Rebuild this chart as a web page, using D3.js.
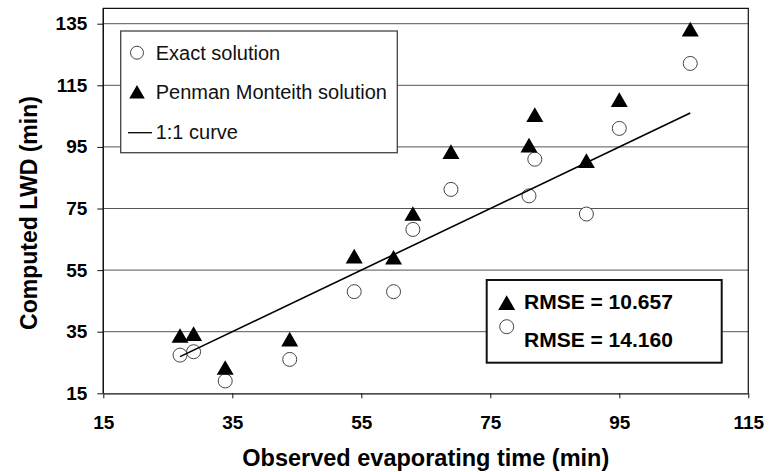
<!DOCTYPE html>
<html>
<head>
<meta charset="utf-8">
<script src="https://cdn.jsdelivr.net/npm/d3@7"></script>
<style>
  html, body { margin: 0; padding: 0; background: #fff; }
  svg { display: block; font-family: "Liberation Sans", Arial, sans-serif; }
</style>
</head>
<body>
<svg id="chart" width="780" height="472"></svg>
<script>
// ---- data ----
const observed = [26.9, 29.0, 33.9, 43.9, 53.9, 60.0, 63.0, 68.9, 81.0, 81.9, 89.9, 95.0, 106.0];
const exactSolution = [27.4, 28.5, 19.0, 26.0, 48.0, 48.0, 68.2, 81.2, 79.1, 91.0, 73.2, 101.0, 122.1];
const penmanMonteith = [33.3, 33.9, 22.9, 32.1, 59.1, 58.7, 72.9, 93.0, 95.1, 105.0, 90.1, 109.9, 132.8];
const oneToOne = [26.9, 106.0];
const xTicks = [15, 35, 55, 75, 95, 115];
const yTicks = [15, 35, 55, 75, 95, 115, 135];
const legendLabels = ["Exact solution", "Penman Monteith solution", "1:1 curve"];
const rmseLabels = ["RMSE = 10.657", "RMSE = 14.160"];
const xTitle = "Observed evaporating time (min)";
const yTitle = "Computed LWD (min)";

// ---- layout ----
const svg = d3.select("#chart");
const L = 103.3, R = 748.3, T = 8.3, B = 393.3;
const x = d3.scaleLinear().domain([15, 115]).range([L, R]);
const y = d3.scaleLinear().domain([15, 140]).range([B, T]);

// gridlines
svg.append("g").selectAll("line").data(yTicks.filter(d => d !== 15)).join("line")
  .attr("x1", L).attr("x2", R)
  .attr("y1", d => y(d)).attr("y2", d => y(d))
  .attr("stroke", "#555").attr("stroke-width", 1);

// frame (left, top, right)
svg.append("path")
  .attr("d", `M${L},${B} L${L},${T} L${R},${T} L${R},${B}`)
  .attr("fill", "none").attr("stroke", "#111").attr("stroke-width", 1.2);

// axes
const xAxis = svg.append("g").attr("transform", `translate(0,${B})`)
  .call(d3.axisBottom(x).tickValues(xTicks).tickFormat(d3.format("d")).tickSize(5).tickSizeOuter(0).tickPadding(17));
const yAxis = svg.append("g").attr("transform", `translate(${L},0)`)
  .call(d3.axisLeft(y).tickValues(yTicks).tickFormat(d3.format("d")).tickSize(6).tickSizeOuter(0).tickPadding(10));
[xAxis, yAxis].forEach(g => {
  g.select(".domain").attr("stroke", "#111").attr("stroke-width", 1.2);
  g.selectAll(".tick line").attr("stroke", "#111");
  g.selectAll(".tick text").attr("fill", "#000")
    .style("font-size", "19px").style("font-weight", "bold")
    .style("font-family", "'Liberation Sans', Arial, sans-serif");
});
yAxis.select(".domain").attr("d", `M0,${B}V${y(140)}`);

// axis titles
svg.append("text").attr("x", (L + R) / 2).attr("y", 466)
  .attr("text-anchor", "middle").style("font-size", "23.5px").style("font-weight", "bold")
  .text(xTitle);
svg.append("text").attr("transform", `translate(37,213) rotate(-90)`)
  .attr("text-anchor", "middle").style("font-size", "23px").style("font-weight", "bold")
  .text(yTitle);

const tri = d3.symbol().type(d3.symbolTriangle).size(125);

// exact solution circles
svg.append("g").selectAll("circle").data(observed).join("circle")
  .attr("cx", d => x(d)).attr("cy", (d, i) => y(exactSolution[i])).attr("r", 7)
  .attr("fill", "#fff").attr("stroke", "#444").attr("stroke-width", 1);

// 1:1 line (drawn over the circles)
svg.append("line")
  .attr("x1", x(oneToOne[0])).attr("y1", y(oneToOne[0]))
  .attr("x2", x(oneToOne[1])).attr("y2", y(oneToOne[1]))
  .attr("stroke", "#000").attr("stroke-width", 1.6);

// Penman Monteith triangles
svg.append("g").selectAll("path").data(observed).join("path")
  .attr("d", tri)
  .attr("transform", (d, i) => `translate(${x(d)},${y(penmanMonteith[i]) + 1})`)
  .attr("fill", "#000");

// legend
const lg = svg.append("g");
lg.append("rect").attr("x", 120.7).attr("y", 31).attr("width", 276.6).attr("height", 121.7)
  .attr("fill", "#fff").attr("stroke", "#444").attr("stroke-width", 1.3);
lg.append("circle").attr("cx", 137).attr("cy", 52.7).attr("r", 6.5)
  .attr("fill", "#fff").attr("stroke", "#444");
lg.append("path").attr("d", d3.symbol().type(d3.symbolTriangle).size(105))
  .attr("transform", "translate(137,94)").attr("fill", "#000");
lg.append("line").attr("x1", 128).attr("x2", 152).attr("y1", 132.7).attr("y2", 132.7)
  .attr("stroke", "#000").attr("stroke-width", 1.3);
[60, 99.3, 139.3].forEach((by, i) => {
  lg.append("text").attr("x", 155.7).attr("y", by).style("font-size", "20px")
    .attr("fill", "#111").text(legendLabels[i]);
});

// RMSE box
const rb = svg.append("g");
rb.append("rect").attr("x", 486.7).attr("y", 280).attr("width", 235).attr("height", 82.7)
  .attr("fill", "#fff").attr("stroke", "#111").attr("stroke-width", 2);
rb.append("path").attr("d", d3.symbol().type(d3.symbolTriangle).size(125))
  .attr("transform", "translate(506.7,305)").attr("fill", "#000");
rb.append("circle").attr("cx", 506.7).attr("cy", 326.7).attr("r", 7)
  .attr("fill", "#fff").attr("stroke", "#444");
[309.3, 346.7].forEach((by, i) => {
  rb.append("text").attr("x", 524).attr("y", by).style("font-size", "21px")
    .style("font-weight", "bold").attr("fill", "#000").text(rmseLabels[i]);
});
</script>
</body>
</html>
